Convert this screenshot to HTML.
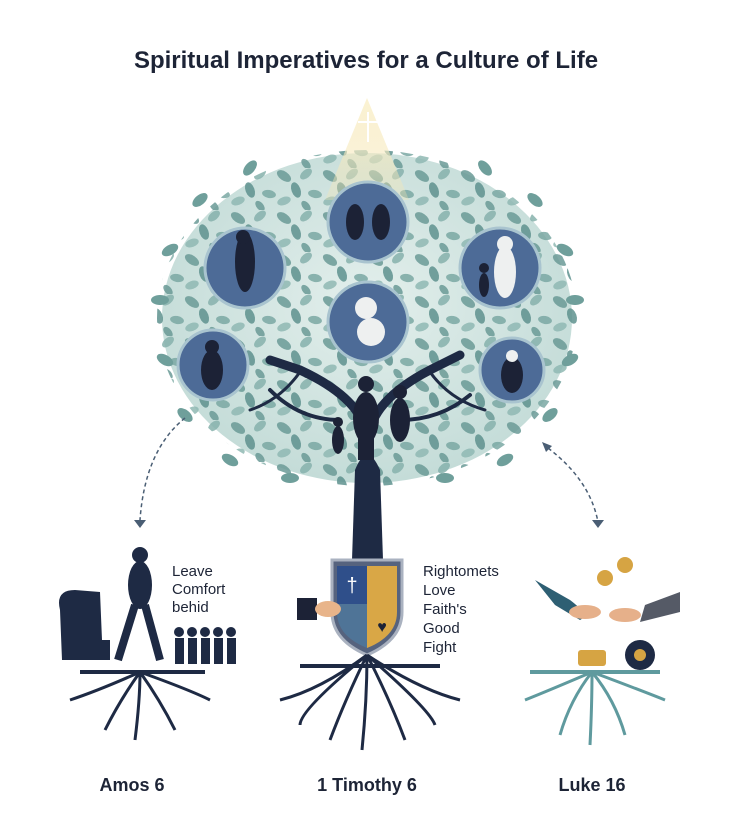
<!DOCTYPE html>
<html><head><meta charset="utf-8"><style>
html,body{margin:0;padding:0;background:#fff;}
svg{display:block;font-family:"Liberation Sans",sans-serif;}
</style></head><body>
<svg width="733" height="832" viewBox="0 0 733 832" xmlns="http://www.w3.org/2000/svg">
<defs>
<radialGradient id="cg" cx="50%" cy="45%" r="55%">
<stop offset="0" stop-color="#e3efec"/><stop offset="1" stop-color="#c4dcd8"/></radialGradient>
<linearGradient id="tg" x1="0" y1="0" x2="0" y2="1"><stop offset="0" stop-color="#fbf2d2"/><stop offset="1" stop-color="#f3e3b0" stop-opacity="0.3"/></linearGradient>
<pattern id="lp" width="46" height="42" patternUnits="userSpaceOnUse">
<ellipse cx="8" cy="8" rx="8" ry="4.5" fill="#6a9a96" transform="rotate(35 8 8)"/>
<ellipse cx="30" cy="6" rx="7" ry="4" fill="#86b1ac" transform="rotate(-40 30 6)"/>
<ellipse cx="20" cy="22" rx="8" ry="4.5" fill="#5e918e" transform="rotate(70 20 22)"/>
<ellipse cx="39" cy="26" rx="7" ry="4" fill="#7aa8a3" transform="rotate(10 39 26)"/>
<ellipse cx="8" cy="33" rx="7" ry="4" fill="#8fb8b3" transform="rotate(-20 8 33)"/>
<ellipse cx="30" cy="38" rx="6" ry="3.5" fill="#6a9a96" transform="rotate(50 30 38)"/>
</pattern>
</defs>
<text x="366" y="68" text-anchor="middle" font-size="24" font-weight="bold" fill="#1d2436">Spiritual Imperatives for a Culture of Life</text>
<!-- canopy -->
<ellipse cx="367" cy="318" rx="205" ry="165" fill="url(#cg)"/>
<ellipse cx="367" cy="318" rx="210" ry="168" fill="url(#lp)" opacity="0.85"/>
<g fill="#6f9f9b">
<ellipse cx="160" cy="300" rx="9" ry="5"/><ellipse cx="575" cy="300" rx="9" ry="5"/>
<ellipse cx="170" cy="250" rx="9" ry="5" transform="rotate(-30 170 250)"/><ellipse cx="565" cy="250" rx="9" ry="5" transform="rotate(30 565 250)"/>
<ellipse cx="200" cy="200" rx="9" ry="5" transform="rotate(-40 200 200)"/><ellipse cx="535" cy="200" rx="9" ry="5" transform="rotate(40 535 200)"/>
<ellipse cx="250" cy="168" rx="9" ry="5" transform="rotate(-50 250 168)"/><ellipse cx="485" cy="168" rx="9" ry="5" transform="rotate(50 485 168)"/>
<ellipse cx="165" cy="360" rx="9" ry="5" transform="rotate(30 165 360)"/><ellipse cx="570" cy="360" rx="9" ry="5" transform="rotate(-30 570 360)"/>
<ellipse cx="185" cy="415" rx="9" ry="5" transform="rotate(40 185 415)"/><ellipse cx="550" cy="415" rx="9" ry="5" transform="rotate(-40 550 415)"/>
<ellipse cx="230" cy="460" rx="9" ry="5" transform="rotate(30 230 460)"/><ellipse cx="505" cy="460" rx="9" ry="5" transform="rotate(-30 505 460)"/>
<ellipse cx="290" cy="478" rx="9" ry="5"/><ellipse cx="445" cy="478" rx="9" ry="5"/>
</g>
<polygon points="367,98 325,200 409,200" fill="url(#tg)"/>
<line x1="368" y1="112" x2="368" y2="142" stroke="#fff" stroke-width="2"/>
<line x1="358" y1="122" x2="378" y2="122" stroke="#fff" stroke-width="2"/>
<!-- circles -->
<g fill="#4d6b97" stroke="#a9c4cf" stroke-width="3">
<circle cx="368" cy="222" r="40"/><circle cx="245" cy="268" r="40"/>
<circle cx="500" cy="268" r="40"/><circle cx="368" cy="322" r="40"/>
<circle cx="213" cy="365" r="35"/><circle cx="512" cy="370" r="32"/>
</g>
<g fill="#1c2236">
<ellipse cx="355" cy="222" rx="9" ry="18"/><ellipse cx="381" cy="222" rx="9" ry="18"/>
<ellipse cx="245" cy="262" rx="10" ry="30"/><circle cx="243" cy="237" r="7"/>
<ellipse cx="212" cy="370" rx="11" ry="20"/><circle cx="212" cy="347" r="7"/>
<ellipse cx="512" cy="375" rx="11" ry="18"/>
</g>
<g fill="#eef0f0">
<ellipse cx="505" cy="272" rx="11" ry="26"/><circle cx="505" cy="244" r="8"/>
<ellipse cx="371" cy="332" rx="14" ry="14"/><circle cx="366" cy="308" r="11"/>
<circle cx="512" cy="356" r="6"/>
</g>
<g fill="#1c2236"><ellipse cx="484" cy="285" rx="5" ry="12"/><circle cx="484" cy="268" r="5"/></g>
<!-- trunk & branches -->
<g fill="none" stroke="#1e2a44" stroke-linecap="round">
<path d="M367 560 L367 440 Q365 400 300 370 L270 360" stroke-width="9"/>
<path d="M367 440 Q372 400 430 370 L460 355" stroke-width="9"/>
<path d="M340 420 Q300 420 270 390" stroke-width="4"/>
<path d="M400 420 Q440 420 470 395" stroke-width="4"/>
<path d="M300 372 Q280 400 250 410" stroke-width="3"/>
<path d="M430 372 Q450 400 485 410" stroke-width="3"/>
</g>
<path d="M352 560 L355 470 Q367 440 380 470 L383 560 Z" fill="#1e2a44"/>
<g fill="#1c2236">
<ellipse cx="366" cy="418" rx="13" ry="26"/><circle cx="366" cy="384" r="8"/>
<rect x="358" y="430" width="16" height="30"/>
<ellipse cx="400" cy="420" rx="10" ry="22"/><circle cx="400" cy="392" r="7"/>
<ellipse cx="338" cy="440" rx="6" ry="14"/><circle cx="338" cy="422" r="5"/>
</g>
<!-- shield -->
<path d="M332 560 L402 560 L402 612 Q402 640 367 655 Q332 640 332 612 Z" fill="#56637e" stroke="#aab2c0" stroke-width="3"/>
<rect x="337" y="566" width="30" height="38" fill="#2f4f8a"/><rect x="367" y="566" width="30" height="38" fill="#d9a746"/>
<path d="M337 604 L367 604 L367 648 Q337 636 337 612Z" fill="#4f7497"/>
<path d="M367 604 L397 604 L397 612 Q397 636 367 648Z" fill="#d9a746"/>
<text x="352" y="592" text-anchor="middle" fill="#fff" font-size="20">†</text>
<text x="382" y="632" text-anchor="middle" fill="#1c2236" font-size="16">♥</text>
<rect x="297" y="598" width="20" height="22" fill="#1c2236"/><ellipse cx="328" cy="609" rx="13" ry="8" fill="#e8b48a"/>
<g font-size="15" fill="#1d2436">
<text x="423" y="576">Rightomets</text><text x="423" y="595">Love</text>
<text x="423" y="614">Faith's</text><text x="423" y="633">Good</text><text x="423" y="652">Fight</text>
<text x="172" y="576">Leave</text><text x="172" y="594">Comfort</text><text x="172" y="612">behid</text>
</g>
<!-- left scene -->
<path d="M60 610 Q55 590 75 590 L100 592 L102 640 L110 640 L110 660 L62 660 Z" fill="#1e2a44"/>
<ellipse cx="140" cy="585" rx="12" ry="24" fill="#1e2a44"/><circle cx="140" cy="555" r="8" fill="#1e2a44"/>
<path d="M135 605 L118 660 M145 605 L160 660" stroke="#1e2a44" stroke-width="8"/>
<g fill="#1e2a44">
<rect x="175" y="638" width="9" height="26"/><circle cx="179" cy="632" r="5"/>
<rect x="188" y="638" width="9" height="26"/><circle cx="192" cy="632" r="5"/>
<rect x="201" y="638" width="9" height="26"/><circle cx="205" cy="632" r="5"/>
<rect x="214" y="638" width="9" height="26"/><circle cx="218" cy="632" r="5"/>
<rect x="227" y="638" width="9" height="26"/><circle cx="231" cy="632" r="5"/>
</g>
<!-- roots -->
<g fill="none" stroke="#1e2a44" stroke-width="3">
<path d="M140 672 Q100 690 70 700 M140 672 Q120 700 105 730 M140 672 Q140 700 135 740 M140 672 Q160 700 175 730 M140 672 Q190 690 210 700"/>
<path d="M367 655 Q320 690 280 700 M367 655 Q345 700 330 740 M367 655 Q367 700 362 750 M367 655 Q390 700 405 740 M367 655 Q420 690 460 700 M367 655 Q300 710 300 725 M367 655 Q430 710 435 725"/>
</g>
<line x1="80" y1="672" x2="205" y2="672" stroke="#1e2a44" stroke-width="4"/>
<line x1="300" y1="666" x2="440" y2="666" stroke="#1e2a44" stroke-width="4"/>
<g fill="none" stroke="#5f9a9e" stroke-width="3">
<path d="M592 672 Q550 690 525 700 M592 672 Q570 700 560 735 M592 672 Q592 705 590 745 M592 672 Q615 700 625 735 M592 672 Q640 690 665 700"/>
</g>
<line x1="530" y1="672" x2="660" y2="672" stroke="#5f9a9e" stroke-width="4"/>
<!-- right scene -->
<path d="M535 580 L570 600 Q590 615 580 620 L555 605 Z" fill="#2e5f73"/>
<ellipse cx="585" cy="612" rx="16" ry="7" fill="#e6b08a"/>
<path d="M680 592 L645 605 L640 622 L680 612 Z" fill="#555a66"/>
<ellipse cx="625" cy="615" rx="16" ry="7" fill="#e6b08a"/>
<circle cx="605" cy="578" r="8" fill="#d6a443"/><circle cx="625" cy="565" r="8" fill="#d6a443"/>
<rect x="578" y="650" width="28" height="16" rx="3" fill="#d6a443"/>
<ellipse cx="640" cy="655" rx="15" ry="15" fill="#1e2a44"/><circle cx="640" cy="655" r="6" fill="#d6a443"/>
<!-- arrows -->
<g fill="none" stroke="#4a5e74" stroke-width="1.5" stroke-dasharray="4 3">
<path d="M185 418 Q145 450 140 520"/><path d="M548 448 Q590 480 598 522"/>
</g>
<polygon points="134,520 146,520 140,528" fill="#4a5e74"/>
<polygon points="592,520 604,520 598,528" fill="#4a5e74"/>
<polygon points="542,442 552,446 546,452" fill="#4a5e74"/>
<g font-size="18" font-weight="bold" fill="#1d2436" text-anchor="middle">
<text x="132" y="791">Amos 6</text><text x="367" y="791">1 Timothy 6</text><text x="592" y="791">Luke 16</text>
</g>
</svg>
</body></html>
